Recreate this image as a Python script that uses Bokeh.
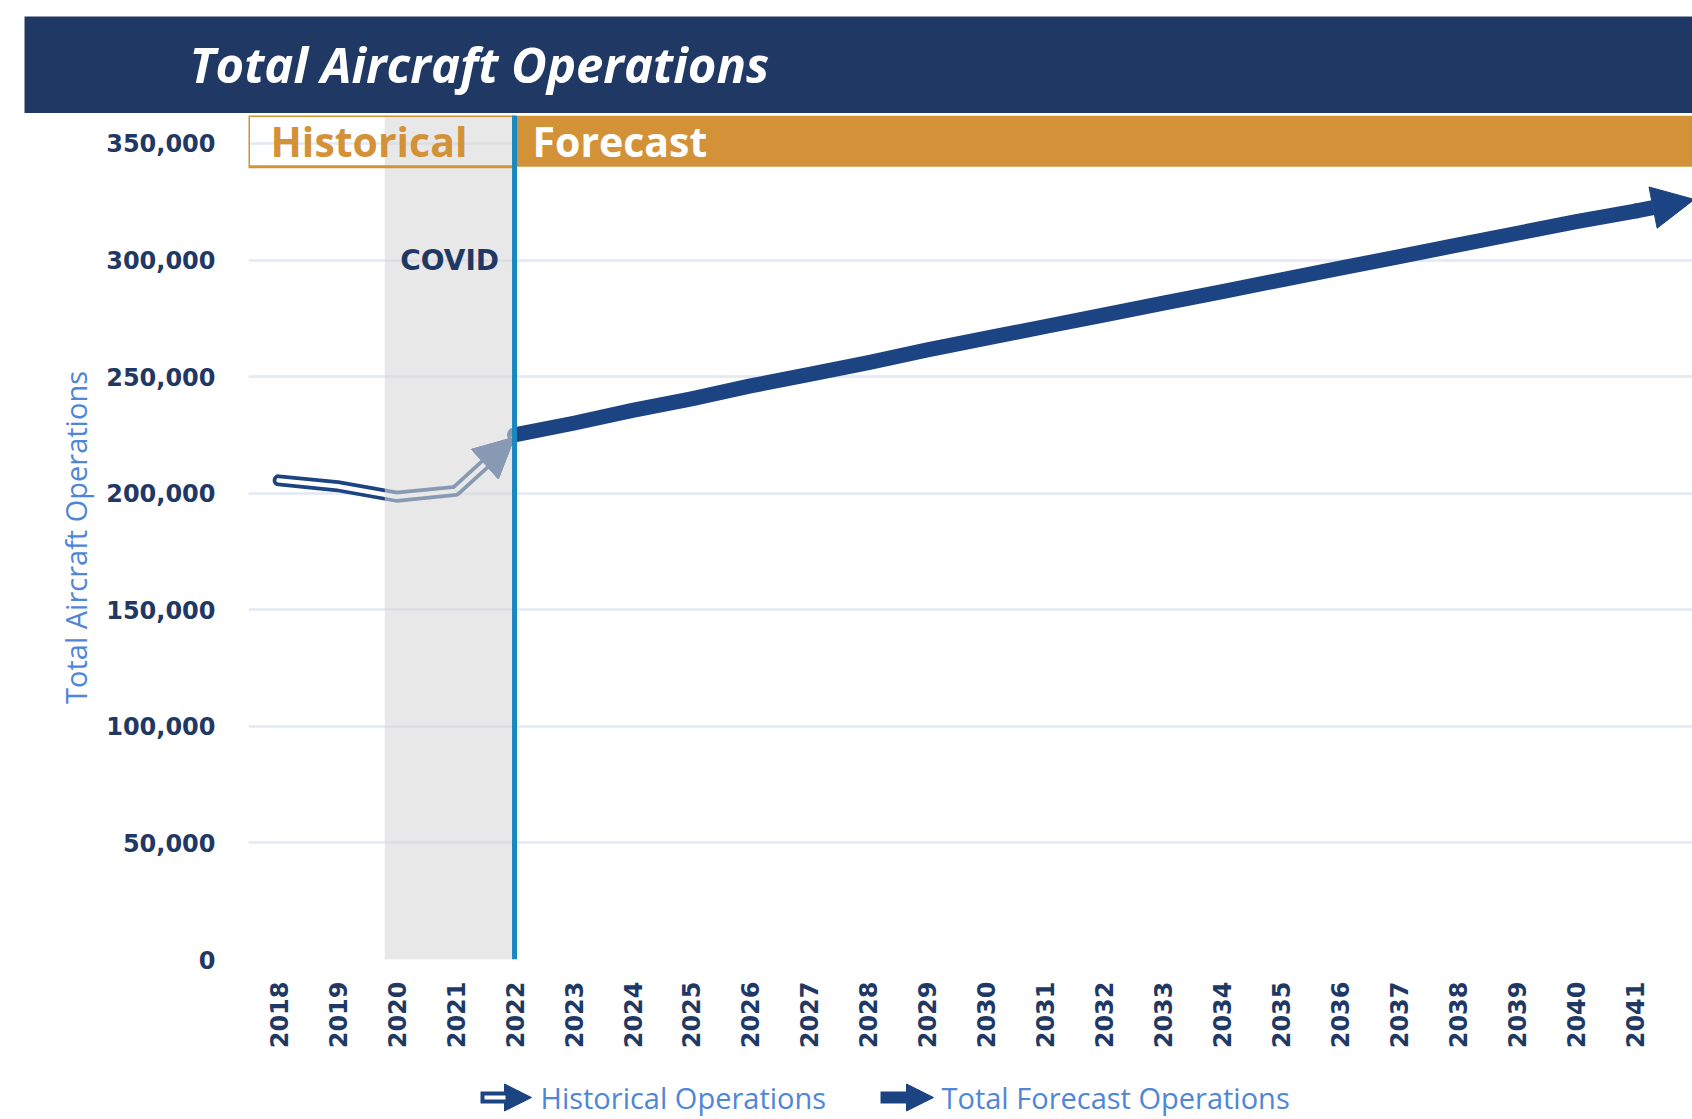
import math
from bokeh.plotting import figure
from bokeh.layouts import column
from bokeh.models import (BoxAnnotation, Span, Label, Arrow, NormalHead,
                          FixedTicker, NumeralTickFormatter, Range1d)
from bokeh.embed import file_html
from bokeh.resources import INLINE

# ---------------- data ----------------
title_text = "Total Aircraft Operations"
y_axis_title = "Total Aircraft Operations"
years = list(range(2018, 2043))
year_labels = [str(y) for y in years]

hist_years = [2018, 2019, 2020, 2021, 2022]
hist_ops = [205500, 203000, 198500, 201000, 224000]

fc_years = list(range(2022, 2043))
fc_ops = [225000, 230000, 235500, 240500, 246000, 251000, 256000, 261500,
          266500, 271500, 276500, 281500, 286500, 291500, 296500, 301500,
          306500, 311500, 316500, 321000, 326000]

y_ticks = [0, 50000, 100000, 150000, 200000, 250000, 300000, 350000]

covid_start = 2019.8
forecast_start = 2022
band_bottom = 340000
band_labels = ["Historical", "Forecast"]
covid_label = "COVID"
legend_labels = ["Historical Operations", "Total Forecast Operations"]

# ---------------- styles ----------------
NAVY_BANNER = "#1f3864"
NAVY_LINE = "#1c4482"
NAVY_TEXT = "#1f3864"
ORANGE = "#d39237"
LIGHT_BLUE = "#4f86d8"
SPAN_BLUE = "#1b87bf"
GRID = "#e2e8f4"

W = 1692
BANNER_H = 113
MAIN_H = 952
LEGEND_H = 1119 - BANNER_H - MAIN_H

# ---------------- banner ----------------
banner = figure(width=W, height=BANNER_H, output_backend="svg", toolbar_location=None,
                x_axis_type=None, y_axis_type=None, frame_align=False,
                x_range=Range1d(0, W - 24), y_range=Range1d(0, BANNER_H - 16),
                min_border_left=24, min_border_right=0, min_border_top=16,
                min_border_bottom=0, outline_line_color=None,
                background_fill_color=NAVY_BANNER, border_fill_color="white")
banner.add_layout(Label(x=165, y=50, text=title_text,
                        text_font="Open Sans", text_font_style="bold italic",
                        text_font_size="49px", text_color="white",
                        text_baseline="middle", text_align="left"))

# ---------------- main chart ----------------
x_start, x_end = 2017.49, 2041.97
y_end = 362000

p = figure(width=W, height=MAIN_H, output_backend="svg", toolbar_location=None,
           frame_align=False,
           x_range=Range1d(x_start, x_end), y_range=Range1d(0, y_end),
           min_border_left=248, min_border_right=0, min_border_top=2,
           min_border_bottom=106, outline_line_color=None,
           background_fill_color="white", border_fill_color="white")

p.yaxis.ticker = FixedTicker(ticks=y_ticks)
p.yaxis.formatter = NumeralTickFormatter(format="0,0")
p.yaxis.major_label_text_font = "DejaVu Sans"
p.yaxis.major_label_text_font_size = "24px"
p.yaxis.major_label_text_font_style = "bold"
p.yaxis.major_label_text_color = NAVY_TEXT
p.yaxis.major_label_standoff = 27
p.yaxis.axis_line_color = None
p.yaxis.major_tick_line_color = None
p.yaxis.minor_tick_line_color = None
p.yaxis.axis_label = y_axis_title
p.yaxis.axis_label_text_font = "Open Sans"
p.yaxis.axis_label_text_font_size = "29px"
p.yaxis.axis_label_text_font_style = "normal"
p.yaxis.axis_label_text_color = LIGHT_BLUE
p.yaxis.axis_label_standoff = 8

p.xaxis.ticker = FixedTicker(ticks=years)
p.xaxis.major_label_overrides = dict(zip(years, year_labels))
p.xaxis.major_label_orientation = math.pi / 2
p.xaxis.major_label_standoff = 16
p.xaxis.major_label_text_font = "DejaVu Sans"
p.xaxis.major_label_text_font_size = "24px"
p.xaxis.major_label_text_font_style = "bold"
p.xaxis.major_label_text_color = NAVY_TEXT
p.xaxis.axis_line_color = None
p.xaxis.major_tick_line_color = None
p.xaxis.minor_tick_line_color = None

p.xgrid.visible = False
p.ygrid.grid_line_color = GRID
p.ygrid.grid_line_width = 2.5

# forecast band
p.add_layout(BoxAnnotation(left=forecast_start, bottom=band_bottom,
                           fill_color=ORANGE, fill_alpha=1, line_color=None))

# historical line (hollow)
p.line(hist_years[:-1], hist_ops[:-1], line_width=12, line_color=NAVY_LINE,
       line_cap="round", line_join="round")
p.line(hist_years[:-1], hist_ops[:-1], line_width=4.5, line_color="white",
       line_cap="round", line_join="round")
p.add_layout(Arrow(x_start=hist_years[-2], y_start=hist_ops[-2],
                   x_end=hist_years[-1], y_end=hist_ops[-1],
                   line_width=12, line_color=NAVY_LINE,
                   end=NormalHead(size=40, fill_color=NAVY_LINE, line_color=NAVY_LINE, line_width=1)))
p.add_layout(Arrow(x_start=hist_years[-2], y_start=hist_ops[-2],
                   x_end=hist_years[-1], y_end=hist_ops[-1],
                   line_width=4.5, line_color="white", end=None))
p.add_layout(Arrow(x_start=hist_years[-2], y_start=hist_ops[-2],
                   x_end=hist_years[-1], y_end=hist_ops[-1],
                   line_alpha=0,
                   end=NormalHead(size=40, fill_color=NAVY_LINE, line_color=NAVY_LINE, line_width=1)))

# covid shade (over the historical line)
p.add_layout(BoxAnnotation(left=covid_start, right=forecast_start,
                           fill_color="#d7d7d7", fill_alpha=0.58, line_color=None))

# historical box outline
p.add_layout(BoxAnnotation(right=forecast_start, bottom=band_bottom,
                           fill_alpha=0, line_color=ORANGE, line_alpha=1,
                           line_width=3))

# forecast line
p.line(fc_years[:-1], fc_ops[:-1], line_width=15, line_color=NAVY_LINE,
       line_cap="round", line_join="round")
p.add_layout(Arrow(x_start=fc_years[-2], y_start=fc_ops[-2],
                   x_end=fc_years[-1], y_end=fc_ops[-1],
                   line_width=15, line_color=NAVY_LINE,
                   end=NormalHead(size=42, fill_color=NAVY_LINE, line_color=NAVY_LINE, line_width=1)))

# divider
p.add_layout(Span(location=forecast_start, dimension="height",
                  line_color=SPAN_BLUE, line_width=5))

# band / covid labels
band_mid = (band_bottom + y_end) / 2
p.add_layout(Label(x=x_start, y=band_mid, x_offset=22, text=band_labels[0],
                   text_font="Open Sans", text_font_style="bold",
                   text_font_size="41px", text_color=ORANGE,
                   text_baseline="middle", text_align="left"))
p.add_layout(Label(x=forecast_start, y=band_mid, x_offset=18, text=band_labels[1],
                   text_font="Open Sans", text_font_style="bold",
                   text_font_size="41px", text_color="white",
                   text_baseline="middle", text_align="left"))
p.add_layout(Label(x=(covid_start + forecast_start) / 2, y=300000, text=covid_label,
                   text_font="DejaVu Sans", text_font_style="bold",
                   text_font_size="28px", text_color=NAVY_TEXT,
                   text_baseline="middle", text_align="center"))

# ---------------- legend strip ----------------
leg = figure(width=W, height=LEGEND_H, output_backend="svg", toolbar_location=None,
             x_axis_type=None, y_axis_type=None, frame_align=False,
             x_range=Range1d(0, W), y_range=Range1d(0, LEGEND_H),
             min_border_left=0, min_border_right=0, min_border_top=0,
             min_border_bottom=0, outline_line_color=None,
             background_fill_color="white", border_fill_color="white")
LY = 22
leg.add_layout(Arrow(x_start=480, y_start=LY, x_end=531, y_end=LY,
                     line_width=12, line_color=NAVY_LINE,
                     end=NormalHead(size=27, fill_color=NAVY_LINE, line_color=NAVY_LINE, line_width=1)))
leg.add_layout(Arrow(x_start=484, y_start=LY, x_end=505, y_end=LY,
                     line_width=4, line_color="white", end=None))
leg.add_layout(Label(x=540, y=LY, text=legend_labels[0], text_font="Open Sans",
                     text_font_size="29px", text_color=LIGHT_BLUE,
                     text_baseline="middle", text_align="left"))
leg.add_layout(Arrow(x_start=880, y_start=LY, x_end=933, y_end=LY,
                     line_width=12, line_color=NAVY_LINE,
                     end=NormalHead(size=27, fill_color=NAVY_LINE, line_color=NAVY_LINE, line_width=1)))
leg.add_layout(Label(x=941, y=LY, text=legend_labels[1], text_font="Open Sans",
                     text_font_size="29px", text_color=LIGHT_BLUE,
                     text_baseline="middle", text_align="left"))

layout = column(banner, p, leg, spacing=0)
open("out.html", "w").write(file_html(layout, INLINE))
